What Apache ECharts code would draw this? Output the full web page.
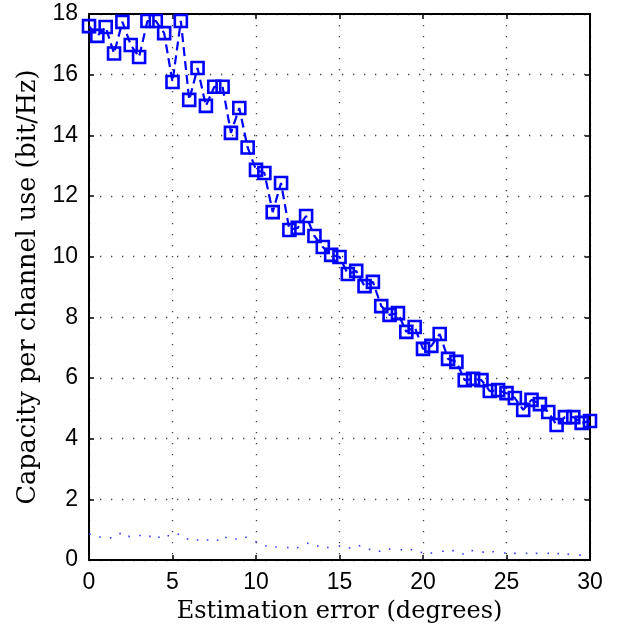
<!DOCTYPE html>
<html>
<head>
<meta charset="utf-8">
<script src="https://cdn.jsdelivr.net/npm/echarts@6/dist/echarts.min.js"></script>
<style>
    html, body { margin: 0; padding: 0; background: #fff; }
    #chart { width: 630px; height: 630px; }
</style>
</head>
<body>
<div id="chart"></div>
<script>
// estimation error (degrees) for the square-marker curve
const errDeg = [
    0, 0.5, 1, 1.5, 2, 2.5, 3, 3.5, 4, 4.5, 5, 5.5, 6, 6.5, 7, 7.5, 8, 8.5, 9, 9.5,
    10, 10.5, 11, 11.5, 12, 12.5, 13, 13.5, 14, 14.5, 15, 15.5, 16, 16.5, 17, 17.5,
    18, 18.5, 19, 19.5, 20, 20.5, 21, 21.5, 22, 22.5, 23, 23.5, 24, 24.5, 25, 25.5,
    26, 26.5, 27, 27.5, 28, 28.5, 29, 29.5, 30
];
const capSquares = [
    17.6, 17.28, 17.57, 16.7, 17.74, 16.98, 16.58, 17.77, 17.77, 17.37, 15.76, 17.77,
    15.17, 16.22, 14.97, 15.6, 15.6, 14.08, 14.9, 13.6, 12.86, 12.76, 11.47, 12.43,
    10.88, 10.95, 11.34, 10.68, 10.32, 10.06, 9.99, 9.43, 9.53, 9.03, 9.17, 8.37,
    8.08, 8.14, 7.52, 7.68, 6.96, 7.06, 7.45, 6.63, 6.53, 5.93, 5.97, 5.93,
    5.57, 5.6, 5.5, 5.34, 4.95, 5.28, 5.14, 4.88, 4.45, 4.71, 4.71, 4.52, 4.58
];

// dotted curve near the bottom
const dotX = [
    0.06, 0.66, 1.3, 1.86, 2.4, 3.05, 3.65, 4.19, 4.75, 5.35, 5.9, 6.5, 7.1, 7.7,
    8.2, 8.8, 9.4, 10.0, 10.6, 11.2, 11.9, 12.5, 13.1, 13.7, 14.3, 15.0, 15.6, 16.2,
    16.8, 17.4, 18.0, 18.7, 19.3, 19.9, 20.5, 21.2, 21.8, 22.4, 22.95, 23.6, 24.2,
    24.9, 25.5, 26.2, 26.8, 27.5, 28.1, 28.7, 29.4
];
const dotY = [
    0.85, 0.76, 0.73, 0.87, 0.78, 0.81, 0.78, 0.75, 0.8, 0.85, 0.69, 0.66, 0.66, 0.65,
    0.74, 0.69, 0.75, 0.6, 0.46, 0.43, 0.41, 0.41, 0.55, 0.46, 0.41, 0.46, 0.4, 0.47,
    0.35, 0.29, 0.36, 0.34, 0.34, 0.25, 0.23, 0.29, 0.31, 0.2, 0.31, 0.26, 0.27,
    0.23, 0.22, 0.22, 0.22, 0.22, 0.21, 0.19, 0.16
];

const xTicks = { min: 0, max: 30, interval: 5 };
const yTicks = { min: 0, max: 18, interval: 2 };

const tickFont = { fontFamily: 'Liberation Sans', fontSize: 23, color: '#000' };
const boxLine = { show: true, onZero: false, lineStyle: { color: '#000', width: 2 } };
const inTick = { show: true, inside: true, length: 5, lineStyle: { color: '#000', width: 1.5 } };
const gridDots = { show: true, lineStyle: { color: '#444', width: 1.3, type: [1.3, 9.7] } };

function pairs(xs, ys) {
    return xs.map((x, i) => [x, ys[i]]);
}

const chart = echarts.init(document.getElementById('chart'));

chart.setOption({
    animation: false,
    backgroundColor: '#fff',
    grid: { left: 89, right: 40, top: 14, bottom: 70 },
    xAxis: [
        {
            type: 'value', position: 'bottom', ...xTicks,
            axisLine: boxLine, axisTick: inTick, splitLine: gridDots,
            axisLabel: { ...tickFont, margin: 11 },
            name: 'Estimation error (degrees)', nameLocation: 'middle', nameGap: 40,
            nameTextStyle: { fontFamily: 'DejaVu Serif', fontSize: 24, color: '#000' }
        },
        {
            type: 'value', position: 'top', ...xTicks,
            axisLine: boxLine, axisTick: inTick, splitLine: { show: false },
            axisLabel: { show: false }
        }
    ],
    yAxis: [
        {
            type: 'value', position: 'left', ...yTicks,
            axisLine: boxLine, axisTick: inTick, splitLine: gridDots,
            axisLabel: { ...tickFont, margin: 11 },
            name: 'Capacity per channel use (bit/Hz)', nameLocation: 'middle', nameGap: 47,
            nameTextStyle: { fontFamily: 'DejaVu Serif', fontSize: 25.5, color: '#000' }
        },
        {
            type: 'value', position: 'right', ...yTicks,
            axisLine: boxLine, axisTick: inTick, splitLine: { show: false },
            axisLabel: { show: false }
        }
    ],
    series: [
        {
            type: 'line',
            data: pairs(dotX, dotY),
            symbol: 'rect',
            symbolSize: 1.6,
            showSymbol: true,
            showAllSymbol: true,
            itemStyle: { color: '#3a3aff' },
            lineStyle: { width: 0, opacity: 0 },
            z: 3
        },
        {
            type: 'line',
            data: pairs(errDeg, capSquares),
            symbol: 'rect',
            symbolSize: 12,
            showAllSymbol: true,
            itemStyle: { color: 'transparent', borderColor: '#0000ff', borderWidth: 2.6 },
            lineStyle: { color: '#0000ff', width: 2.2, type: [9, 5] },
            z: 4
        }
    ]
});
</script>
</body>
</html>
